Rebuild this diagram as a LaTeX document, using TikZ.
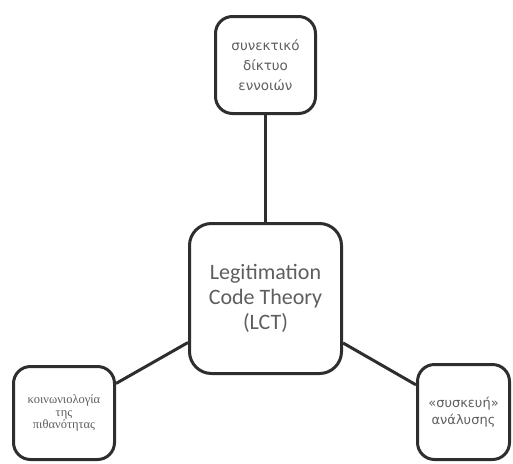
\documentclass[tikz,border=0pt]{standalone}
\usepackage{fontspec}
\usepackage{tikz}
\usetikzlibrary{positioning}
\newfontfamily\calibrifont{Carlito}
\newfontfamily\greeksans{DejaVu Sans}
\newfontfamily\greekserif{Liberation Serif}
\definecolor{boxline}{HTML}{2E2E2E}
\definecolor{boxtext}{HTML}{5E5E5E}
\tikzset{
    concept/.style={
           rectangle,
           rounded corners=17pt,
           draw=boxline, line width=3pt,
           text=boxtext,
           align=center,
           inner sep=2pt,
           },
    core/.style={
           concept,
           rounded corners=22pt,
           minimum width=152pt,
           minimum height=150pt,
           font=\calibrifont\fontsize{22}{25}\selectfont,
           },
    link/.style={
           draw=boxline, line width=3pt,
           },
}
\begin{document}
\begin{tikzpicture}[x=1pt, y=-1pt, node distance=1cm, on grid]
   \useasboundingbox (0,0) rectangle (513,463);
   \node[core] (lct) at (265.5,298.5) {Legitimation\\Code Theory\\(LCT)};
   \node[concept, minimum width=100pt, minimum height=97pt,
         font=\greeksans\fontsize{13.5}{20}\selectfont]
         (network) [above=233.5pt of lct] {συνεκτικό\\δίκτυο\\εννοιών};
   \node[concept, minimum width=101pt, minimum height=93pt,
         font=\greekserif\fontsize{12.5}{12.5}\selectfont]
         (sociology) [below left=114.5pt and 201.5pt of lct] {κοινωνιολογία\\της\\πιθανότητας};
   \node[concept, minimum width=92pt, minimum height=95pt,
         font=\greeksans\fontsize{13}{17}\selectfont]
         (device) [below right=113.5pt and 198pt of lct] {«συσκευή»\\ανάλυσης};

   \path[link]
    (network) edge (lct)
    (lct) edge (sociology)
    (lct) edge (device)
       ;
\end{tikzpicture}
\end{document}
